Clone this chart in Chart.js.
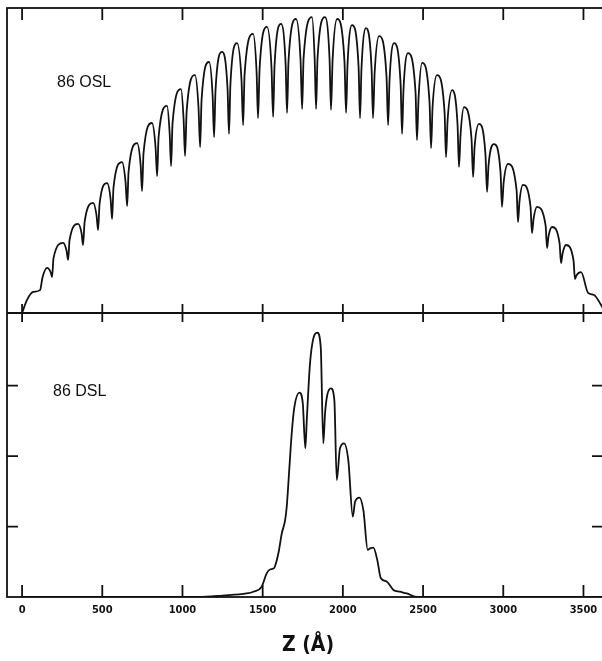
<!DOCTYPE html>
<html>
<head>
<meta charset="utf-8">
<title>86 OSL / 86 DSL</title>
<script src="https://cdn.jsdelivr.net/npm/chart.js@4.4.1/dist/chart.umd.min.js"></script>
<style>
    html, body { margin: 0; padding: 0; background: #fff; overflow: hidden; }
    #wrap { width: 610px; height: 661px; }
</style>
</head>
<body>
<div id="wrap"><canvas id="profileChart" width="610" height="661"></canvas></div>
<script>
// Eje Z (Å): marcas y etiquetas
const xTicks = [0, 500, 1000, 1500, 2000, 2500, 3000, 3500];
const dslTicks = [1, 2, 3];

// 86 OSL: Z y intensidad (escala arbitraria 0-100)
const oslZ = [
    0, 31, 69, 112,
    128, 156, 178, 187,
    196, 256, 277, 287,
    296, 349, 371, 380,
    390, 443, 464, 474,
    483, 530, 552, 561,
    570, 623, 645, 655,
    664, 717, 739, 748,
    757, 810, 832, 842,
    851, 904, 920, 929,
    938, 991, 1007, 1016,
    1026, 1078, 1100, 1110,
    1119, 1166, 1188, 1197,
    1206, 1247, 1281, 1290,
    1299, 1340, 1368, 1378,
    1387, 1440, 1462, 1471,
    1481, 1527, 1555, 1565,
    1574, 1615, 1643, 1652,
    1661, 1708, 1736, 1746,
    1755, 1808, 1824, 1833,
    1842, 1889, 1917, 1926,
    1936, 1964, 2010, 2020,
    2029, 2057, 2098, 2107,
    2116, 2144, 2179, 2188,
    2198, 2226, 2272, 2282,
    2291, 2319, 2360, 2369,
    2378, 2406, 2453, 2462,
    2472, 2494, 2540, 2550,
    2559, 2587, 2634, 2643,
    2653, 2681, 2715, 2724,
    2734, 2755, 2802, 2812,
    2821, 2849, 2889, 2899,
    2908, 2942, 2983, 2992,
    3002, 3030, 3083, 3092,
    3101, 3123, 3170, 3179,
    3189, 3210, 3264, 3273,
    3282, 3304, 3351, 3360,
    3370, 3391, 3438, 3447,
    3457, 3485, 3529, 3566,
    3610, 3634
];
const oslI = [
    0, 4.3, 6.9, 7.5,
    11.8, 14.8, 13.4, 11.8,
    18.0, 23.0, 20.5, 17.4,
    23.9, 29.2, 26.1, 22.3,
    29.9, 36.1, 32.1, 27.2,
    35.7, 42.6, 37.3, 30.8,
    41.1, 49.5, 43.0, 35.1,
    46.4, 55.7, 48.6, 40.0,
    52.3, 62.3, 54.5, 44.9,
    57.6, 67.9, 59.0, 48.2,
    62.1, 73.4, 63.5, 51.5,
    66.1, 78.0, 67.4, 54.4,
    69.7, 82.3, 71.2, 57.7,
    73.0, 85.6, 73.5, 58.7,
    75.1, 88.5, 76.4, 61.6,
    78.0, 91.5, 79.1, 63.9,
    80.3, 93.8, 80.5, 64.3,
    81.1, 94.8, 81.7, 65.6,
    82.5, 96.4, 83.1, 66.9,
    83.5, 97.0, 83.5, 66.9,
    83.5, 97.0, 83.3, 66.6,
    83.0, 96.4, 82.5, 65.6,
    81.4, 94.4, 80.7, 63.9,
    80.1, 93.4, 80.1, 63.9,
    78.7, 90.8, 77.7, 61.6,
    76.4, 88.5, 75.1, 58.7,
    73.3, 85.2, 72.4, 56.7,
    70.6, 82.0, 69.4, 54.1,
    67.2, 78.0, 65.9, 51.1,
    63.2, 73.1, 61.8, 47.9,
    58.7, 67.5, 57.2, 44.6,
    54.2, 62.0, 52.0, 39.7,
    48.3, 55.4, 46.1, 34.8,
    42.6, 48.9, 40.3, 29.8,
    36.5, 42.0, 34.9, 26.2,
    30.9, 34.8, 28.7, 21.3,
    25.1, 28.2, 22.9, 16.4,
    19.6, 22.3, 17.3, 11.1,
    12.4, 13.4, 6.6, 5.9,
    2.6, 0.3
];

// 86 DSL: Z e intensidad (unidades de las marcas del eje)
const dslZ = [
    0, 1100, 1250, 1400, 1442, 1494, 1525, 1546, 1571, 1598,
    1619, 1640, 1650, 1667, 1681, 1698, 1729, 1750, 1766, 1775,
    1795, 1816, 1841, 1862, 1878, 1889, 1903, 1926, 1947, 1962,
    1982, 2007, 2034, 2062, 2076, 2103, 2128, 2155, 2170, 2190,
    2215, 2236, 2273, 2315, 2356, 2398, 2465, 3653
];
const dslI = [
    0, 0, 0.02, 0.05, 0.075, 0.146, 0.336, 0.39, 0.41, 0.62,
    0.90, 1.09, 1.28, 1.85, 2.32, 2.70, 2.90, 2.75, 2.11, 2.51,
    3.31, 3.67, 3.75, 3.55, 2.18, 2.61, 2.87, 2.96, 2.79, 1.66,
    2.11, 2.18, 1.94, 1.14, 1.35, 1.41, 1.23, 0.67, 0.69, 0.70,
    0.52, 0.27, 0.22, 0.10, 0.075, 0.05, 0, 0
];

const ink = '#111';

// Marco, marcas hacia dentro y textos
const framePlugin = {
    id: 'frame',
    afterDraw(chart) {
        const ctx = chart.ctx;
        const area = chart.chartArea;
        const x = chart.scales.x;
        const yBot = chart.scales.yBot;
        const mid = chart.scales.yTop.bottom;

        ctx.save();
        ctx.strokeStyle = ink;
        ctx.lineWidth = 1.8;
        ctx.strokeRect(area.left, area.top, area.right - area.left, area.bottom - area.top);

        ctx.beginPath();
        ctx.moveTo(area.left, mid);
        ctx.lineTo(area.right, mid);
        xTicks.forEach(v => {
            const px = x.getPixelForValue(v);
            ctx.moveTo(px, area.top);
            ctx.lineTo(px, area.top + 12);
            ctx.moveTo(px, mid - 9);
            ctx.lineTo(px, mid + 9);
            ctx.moveTo(px, area.bottom - 12);
            ctx.lineTo(px, area.bottom);
        });
        dslTicks.forEach(v => {
            const py = yBot.getPixelForValue(v);
            ctx.moveTo(area.left, py);
            ctx.lineTo(area.left + 11, py);
            ctx.moveTo(area.right - 16, py);
            ctx.lineTo(area.right, py);
        });
        ctx.stroke();

        ctx.fillStyle = ink;
        ctx.textBaseline = 'alphabetic';
        ctx.textAlign = 'left';
        ctx.font = '16px "Liberation Sans", Arial, sans-serif';
        ctx.fillText('86 OSL', 57, 87);
        ctx.fillText('86 DSL', 53, 396);

        ctx.font = 'bold 21px "Liberation Sans Narrow", "DejaVu Sans Condensed", sans-serif';
        ctx.textAlign = 'center';
        ctx.fillText('Z (Å)', 308, 651);
        ctx.restore();
    }
};

document.addEventListener('DOMContentLoaded', function() {
    const ctx = document.getElementById('profileChart').getContext('2d');

    const oslPoints = oslZ.map((z, i) => ({ x: z, y: oslI[i] }));
    const dslPoints = dslZ.map((z, i) => ({ x: z, y: dslI[i] }));

    const hiddenAxis = {
        type: 'linear',
        position: 'right',
        stack: 'panels',
        offset: false,
        min: 0,
        grid: { display: false, drawTicks: false },
        border: { display: false },
        ticks: { display: false }
    };

    new Chart(ctx, {
        type: 'line',
        data: {
            datasets: [{
                label: '86 OSL',
                data: oslPoints,
                yAxisID: 'yTop',
                borderColor: ink,
                borderWidth: 1.8,
                pointRadius: 0,
                fill: false,
                tension: 0.4,
                cubicInterpolationMode: 'monotone'
            }, {
                label: '86 DSL',
                data: dslPoints,
                yAxisID: 'yBot',
                borderColor: ink,
                borderWidth: 1.8,
                pointRadius: 0,
                fill: false,
                tension: 0.4,
                cubicInterpolationMode: 'monotone'
            }]
        },
        options: {
            responsive: false,
            animation: false,
            devicePixelRatio: 1,
            layout: {
                padding: { top: 8, left: 7, right: 2, bottom: 0 }
            },
            plugins: {
                legend: { display: false },
                tooltip: { enabled: false }
            },
            scales: {
                x: {
                    type: 'linear',
                    position: 'bottom',
                    min: -94,
                    max: 3653,
                    grid: { display: false, drawTicks: false },
                    border: { display: false },
                    afterBuildTicks: function(scale) {
                        scale.ticks = xTicks.map(v => ({ value: v }));
                    },
                    afterFit: function(scale) {
                        scale.height = 64;
                    },
                    ticks: {
                        autoSkip: false,
                        maxRotation: 0,
                        padding: 7,
                        color: ink,
                        font: { family: '"Liberation Sans Narrow", "DejaVu Sans Condensed", sans-serif', size: 11, weight: 'bold' },
                        callback: function(value) {
                            return String(value);
                        }
                    }
                },
                yTop: Object.assign({}, hiddenAxis, { max: 100, stackWeight: 305 }),
                yBot: Object.assign({}, hiddenAxis, { max: 4.03, stackWeight: 284 })
            }
        },
        plugins: [framePlugin]
    });
});
</script>
</body>
</html>
